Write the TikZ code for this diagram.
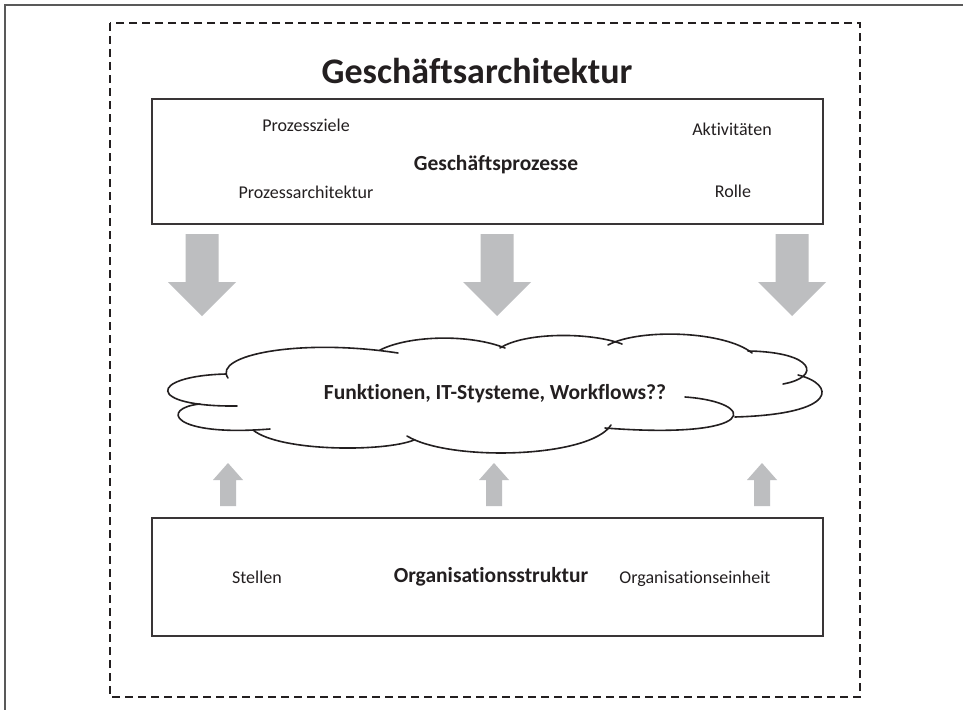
\documentclass[tikz,border=0pt]{standalone}
\usepackage{fontspec}
\setmainfont[Ligatures={NoCommon,NoContextual}]{Carlito}
\definecolor{arrowgray}{HTML}{BDBEC0}
\definecolor{ink}{HTML}{231F20}
\begin{document}
\begin{tikzpicture}[x=1pt,y=-1pt,
  frame/.style={draw=black!65, line width=2pt},
  zone/.style={draw=ink, line width=1.8pt, dash pattern=on 8pt off 5pt},
  panel/.style={draw=ink!90, line width=2pt, fill=white, inner sep=0pt, outer sep=0pt},
  item/.style={font=\fontsize{18}{20}\selectfont, text=ink, anchor=base, inner sep=0pt},
  heading/.style={font=\fontsize{21.5}{24}\selectfont\bfseries, text=ink, anchor=base, inner sep=0pt},
  title/.style={font=\fontsize{36}{40}\selectfont\bfseries, text=ink, anchor=base, inner sep=0pt},
  cloudline/.style={draw=ink, line width=1.6pt, line cap=round},
  pics/bigdown/.style={code={
    \fill[arrowgray] (-16.5,0) -- (16.5,0) -- (16.5,48) -- (34,48) -- (0,82)
      -- (-34,48) -- (-16.5,48) -- cycle;}},
  pics/smallup/.style={code={
    \fill[arrowgray] (0,0) -- (15,17) -- (8,17) -- (8,43) -- (-8,43)
      -- (-8,17) -- (-15,17) -- cycle;}}
]
\useasboundingbox (0,0) rectangle (963,709);
\fill[white] (0,0) rectangle (963,709);

% outer frame, running off the right and bottom edges
\begin{scope}
  \clip (0,0) rectangle (963,709);
  \draw[frame] (5,5) rectangle (990,740);
\end{scope}

% dashed enclosure
\draw[zone] (110,23) rectangle (860,697);

\node[title] (arch) at (477,83) {Geschäftsarchitektur};

% business process panel
\node[panel, minimum width=671pt, minimum height=125pt] (proc) at (487.5,161.5) {};
\node[item] (ziele) at (306,131) {Prozessziele};
\node[item] (parch) at (306,198) {Prozessarchitektur};
\node[heading] (gp) at (496,170) {Geschäftsprozesse};
\node[item] (akt) at (732,135) {Aktivitäten};
\node[item] (rolle) at (733,197) {Rolle};

% organisation panel
\node[panel, minimum width=671pt, minimum height=118pt] (org) at (487.5,577) {};
\node[item] (stellen) at (257,583) {Stellen};
\node[heading] (os) at (491,582) {Organisationsstruktur};
\node[item] (oe) at (695,583) {Organisationseinheit};

% large arrows from the process panel down to the cloud
\pic at (202,234) {bigdown};
\pic at (497,234) {bigdown};
\pic at (792,234) {bigdown};

% small arrows from the organisation panel up to the cloud
\pic at (228,463) {smallup};
\pic at (494,463) {smallup};
\pic at (762,463) {smallup};

% cloud, built from overlapping lobes
\fill[white] (228,378) .. controls (215,355) and (300,338) .. (398,353)
  -- (505,348) -- (622,343) -- (752,352) -- (800,375) -- (824,392)
  -- (735,417) -- (605,428) -- (410,438) -- (253,430) -- (200,404)
  -- (163,390) -- cycle;
\draw[cloudline] (228,378) .. controls (212,355) and (300,338) .. (398,353);
\draw[cloudline] (380,350) .. controls (410,335) and (470,334) .. (505,348);
\draw[cloudline] (500,348) .. controls (525,332) and (590,332) .. (622,344);
\draw[cloudline] (608,345) .. controls (640,328) and (725,331) .. (752,353);
\draw[cloudline] (748,351) .. controls (815,352) and (822,377) .. (783,384);
\draw[cloudline] (798,375) .. controls (835,384) and (840,414) .. (735,417);
\draw[cloudline] (685,397) .. controls (758,402) and (762,440) .. (605,428);
\draw[cloudline] (611,425) .. controls (590,458) and (450,462) .. (407,436);
\draw[cloudline] (414,440) .. controls (385,452) and (280,452) .. (253,430);
\draw[cloudline] (270,429) .. controls (170,437) and (160,408) .. (200,404);
\draw[cloudline] (237,406) .. controls (145,407) and (148,376) .. (226,374);

\node[heading] (func) at (495,399) {Funktionen, IT-Stysteme, Workflows??};
\end{tikzpicture}
\end{document}
